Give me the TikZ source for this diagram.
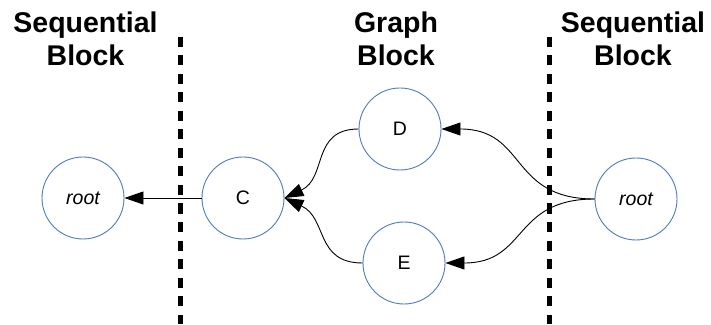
\documentclass[tikz,border=0pt]{standalone}
\usepackage{fontspec}
\setmainfont{Liberation Sans}
\usetikzlibrary{arrows.meta}
\definecolor{nodeblue}{RGB}{79,123,190}
\tikzset{
  block/.style={circle, draw=nodeblue, line width=0.9pt, minimum size=82pt, inner sep=0pt, font=\fontsize{19.5}{22}\selectfont},
  title/.style={align=center, inner sep=0pt, font=\fontsize{28.5}{33}\selectfont\bfseries},
  divider/.style={line width=5pt, dash pattern=on 10pt off 8.5pt},
  edge/.style={line width=0.9pt, -{Triangle[length=19pt,width=13pt]}}
}

\begin{document}
\begin{tikzpicture}[x=1pt,y=1pt]
        \useasboundingbox (0,0) rectangle (711,324);
        % block titles
        \node[title] (seqleft) at (85.5,284.7) {Sequential\\Block};
        \node[title] (graph) at (396,284.7) {Graph\\Block};
        \node[title] (seqright) at (633,284.7) {Sequential\\Block};
        
        \draw[divider] (180,287)--(180,0);
        \draw[divider] (549,287)--(549,0);
        
        \node[block] (rootL) at (83,126) {\itshape root};
        \node[block] (C) at (243,126) {C};
        \node[block] (D) at (400,195) {D};
        \node[block] (E) at (404,61) {E};
        \node[block] (rootR) at (636,125) {\itshape root};
        
        \draw[edge] (C) -- (rootL);
        \draw[edge] (D.west) to[out=180,in=25,looseness=1.2] (C.east);
        \draw[edge] (E.west) to[out=180,in=-25,looseness=1.2] (C.east);
        \draw[edge] (rootR.west) to[out=180,in=0,looseness=1.3] (D.east);
        \draw[edge] (rootR.west) to[out=180,in=0,looseness=1.3] (E.east);
        
    \end{tikzpicture}
\end{document}
